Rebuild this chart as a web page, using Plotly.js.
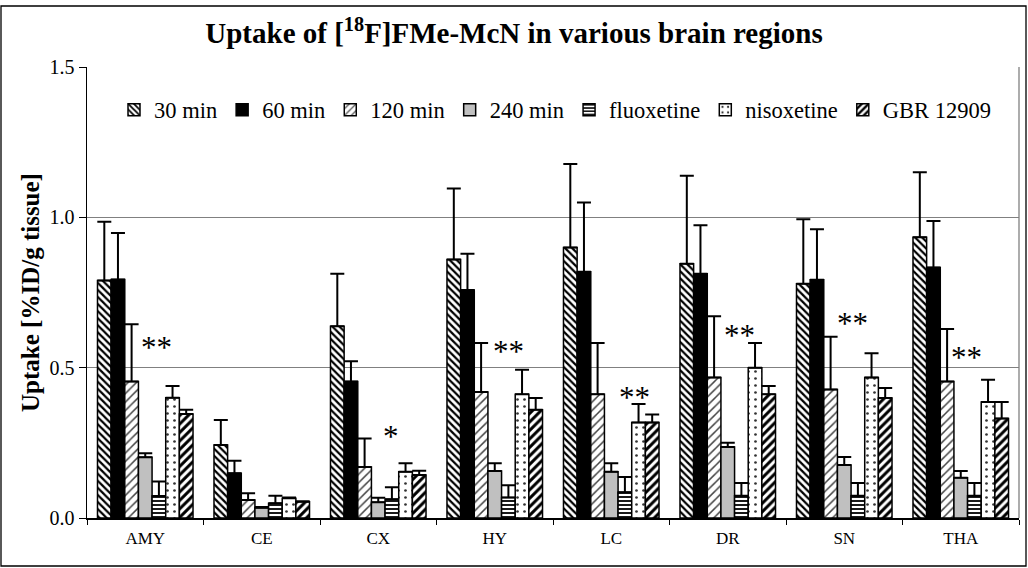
<!DOCTYPE html>
<html>
<head>
<meta charset="utf-8">
<script src="https://cdn.plot.ly/plotly-3.0.1.min.js"></script>
<style>
  html, body { margin: 0; padding: 0; background: #fff; }
  #chart { width: 1028px; height: 568px; }
</style>
</head>
<body>
<div id="chart"></div>
<script>
// Brain regions on the x axis
const regions = ['AMY', 'CE', 'CX', 'HY', 'LC', 'DR', 'SN', 'THA'];

// Mean uptake (%ID/g tissue) and SD per condition
const min30   = [0.790, 0.243, 0.638, 0.860, 0.900, 0.846, 0.779, 0.934];
const sd30    = [0.195, 0.083, 0.174, 0.236, 0.277, 0.292, 0.215, 0.216];
const min60   = [0.793, 0.149, 0.454, 0.758, 0.819, 0.812, 0.792, 0.833];
const sd60    = [0.155, 0.041, 0.067, 0.121, 0.230, 0.162, 0.168, 0.155];
const min120  = [0.454, 0.060, 0.170, 0.419, 0.412, 0.467, 0.427, 0.454];
const sd120   = [0.190, 0.022, 0.094, 0.163, 0.170, 0.204, 0.176, 0.175];
const min240  = [0.202, 0.034, 0.052, 0.156, 0.154, 0.236, 0.176, 0.134];
const sd240   = [0.013, 0.003, 0.015, 0.026, 0.028, 0.014, 0.027, 0.022];
const fluox   = [0.073, 0.049, 0.062, 0.068, 0.086, 0.074, 0.074, 0.074];
const sdFluox = [0.048, 0.025, 0.040, 0.041, 0.050, 0.042, 0.042, 0.042];
const nisox   = [0.400, 0.066, 0.154, 0.412, 0.318, 0.500, 0.467, 0.386];
const sdNisox = [0.039, 0.002, 0.028, 0.081, 0.061, 0.082, 0.081, 0.074];
const gbr     = [0.346, 0.054, 0.143, 0.360, 0.318, 0.412, 0.399, 0.331];
const sdGbr   = [0.014, 0.002, 0.014, 0.039, 0.026, 0.027, 0.033, 0.055];

const seriesNames = ['30 min', '60 min', '120 min', '240 min', 'fluoxetine', 'nisoxetine', 'GBR 12909'];

// Significance markers
const sigRegions = ['AMY', 'CX', 'HY', 'LC', 'DR', 'SN', 'THA'];
const sigLabels  = ['**', '*', '**', '**', '**', '**', '**'];
const sigLevel   = [0.585, 0.288, 0.570, 0.417, 0.624, 0.663, 0.550];
const sigShift   = [0.10, 0.11, 0.12, 0.20, 0.10, 0.07, 0.05];

const serif = 'Liberation Serif, Times New Roman, serif';

const values = [min30, min60, min120, min240, fluox, nisox, gbr];
const sds    = [sd30, sd60, sd120, sd240, sdFluox, sdNisox, sdGbr];

// Fill style for each series
const fills = [
  { color: '#ffffff', pattern: { shape: '\\', fgcolor: '#000', bgcolor: '#fff', size: 5, solidity: 0.45, fillmode: 'replace' } },
  { color: '#000000' },
  { color: '#ffffff', pattern: { shape: '/', fgcolor: '#444', bgcolor: '#fff', size: 6, solidity: 0.25, fillmode: 'replace' } },
  { color: '#c0c0c0' },
  { color: '#ffffff', pattern: { shape: '-', fgcolor: '#000', bgcolor: '#fff', size: 4, solidity: 0.45, fillmode: 'replace' } },
  { color: '#ffffff', pattern: { shape: '.', fgcolor: '#333', bgcolor: '#fff', size: 7, solidity: 0.12, fillmode: 'replace' } },
  { color: '#ffffff', pattern: { shape: '/', fgcolor: '#000', bgcolor: '#fff', size: 6, solidity: 0.5, fillmode: 'replace' } }
];

const traces = seriesNames.map((name, i) => {
  const marker = { color: fills[i].color, line: { color: '#000', width: 1.5 } };
  if (fills[i].pattern) marker.pattern = fills[i].pattern;
  return {
    type: 'bar',
    name: name,
    x: regions,
    y: values[i],
    marker: marker,
    error_y: { type: 'data', symmetric: false, array: sds[i], arrayminus: sds[i].map(() => 0),
               color: '#000', thickness: 2, width: 7 }
  };
});

const annotations = sigRegions.map((r, i) => ({
  x: regions.indexOf(r) + sigShift[i],
  y: sigLevel[i],
  xref: 'x', yref: 'y',
  text: sigLabels[i],
  showarrow: false,
  font: { family: serif, size: 31, color: '#000' },
  yanchor: 'middle',
  yshift: -5
}));

const L = 87, R = 1019, T = 67, B = 518;
const pw = R - L, ph = B - T;

const layout = {
  width: 1028, height: 568,
  margin: { l: L, r: 1028 - R, t: T, b: 568 - B },
  paper_bgcolor: '#fff', plot_bgcolor: '#fff',
  font: { family: serif, color: '#000' },
  title: {
    text: 'Uptake of [<sup>18</sup>F]FMe-McN in various brain regions',
    font: { family: serif, size: 29, color: '#000', weight: 'bold' },
    x: 0.5, xanchor: 'center', y: 1 - 33 / 568, yanchor: 'middle'
  },
  barmode: 'group', bargap: 0.18, bargroupgap: 0,
  showlegend: true,
  legend: {
    orientation: 'h', x: (114 - L) / pw, xanchor: 'left', y: (B - 110) / ph, yanchor: 'middle',
    font: { family: serif, size: 22.5, color: '#000' }, bgcolor: 'rgba(0,0,0,0)', traceorder: 'normal',
    itemwidth: 30
  },
  xaxis: {
    type: 'category', tickson: 'boundaries', ticks: 'outside', ticklen: 5, tickcolor: '#000', tickwidth: 1,
    showline: true, linecolor: '#000', linewidth: 1.5, showgrid: false, zeroline: false,
    ticklabelstandoff: 4,
    tickfont: { family: serif, size: 17, color: '#000' }
  },
  yaxis: {
    range: [0, 1.5], tickvals: [0, 0.5, 1.0, 1.5], tickformat: '.1f', ticks: 'outside', ticklen: 7,
    tickcolor: '#000', tickwidth: 1, showline: true, linecolor: '#000', linewidth: 1.5,
    showgrid: true, gridcolor: '#808080', gridwidth: 1.3, zeroline: false,
    tickfont: { family: serif, size: 20, color: '#000' },
    title: { text: 'Uptake [%ID/g tissue]', font: { family: serif, size: 25, color: '#000', weight: 'bold' }, standoff: 3 }
  },
  annotations: annotations,
  shapes: [
    // right edge of the plotting area
    { type: 'line', xref: 'paper', yref: 'paper', x0: 1, x1: 1, y0: 0, y1: 1, line: { color: '#808080', width: 1.3 } },
    // outer frame of the chart
    { type: 'rect', xref: 'paper', yref: 'paper',
      x0: (1 - L) / pw, x1: (1026 - L) / pw, y0: (B - 566) / ph, y1: (B - 6) / ph,
      line: { color: '#000', width: 1.3 }, fillcolor: 'rgba(0,0,0,0)' }
  ]
};

Plotly.newPlot('chart', traces, layout, { displayModeBar: false, staticPlot: true });
</script>
</body>
</html>
